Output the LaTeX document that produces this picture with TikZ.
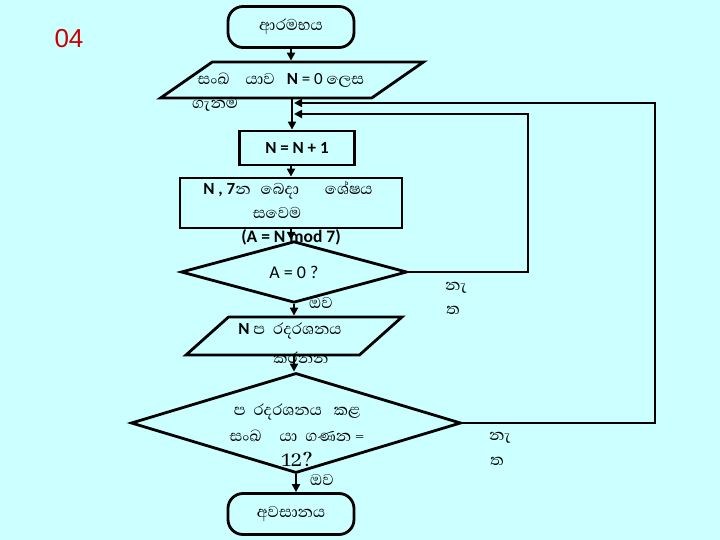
\documentclass[tikz,border=0pt]{standalone}
\usepackage{fontspec}
\setmainfont{Carlito}
\newfontfamily\sinhalafont[Script=Sinhala]{Abhaya Libre}
\newfontfamily\arialfont{Liberation Sans}
\usetikzlibrary{shapes.geometric, arrows.meta}
\definecolor{bgcyan}{RGB}{204,255,255}
\definecolor{numred}{RGB}{204,0,0}
\tikzset{>={Triangle[length=8pt,width=8pt]}}
\tikzset{
    shapeline/.style={draw, line width=2.8pt},
    terminal/.style={shapeline, rectangle, rounded corners=15pt, minimum width=126pt, minimum height=41pt, font=\sinhalafont\fontsize{20}{22}\selectfont},
    process/.style={shapeline, rectangle},
    io/.style={shapeline, trapezium, trapezium left angle=72, trapezium right angle=108, trapezium stretches=true},
    decision/.style={shapeline, diamond, inner sep=0pt},
    txt/.style={inner sep=0pt, font=\sinhalafont\fontsize{20}{22}\selectfont},
    flow/.style={line width=2.8pt, ->},
}
\newcommand{\lb}{\fontspec{Carlito}\bfseries}
\newcommand{\lr}{\fontspec{Carlito}}

\begin{document}
\begin{tikzpicture}[x=1pt, y=-1pt]
    \fill[bgcyan] (0,0) rectangle (720,540);
    \useasboundingbox (0,0) rectangle (720,540);

    \node[inner sep=0pt, text=numred, font=\arialfont\fontsize{26}{28}\selectfont] (num) at (69,39) {04};

    % shapes
    \node[terminal] (start) at (291,27) {ආරමභය};
    \node[io, minimum width=263pt, minimum height=36pt] (in1) at (292,80) {};
    \node[process, minimum width=115pt, minimum height=34pt, font=\lb\fontsize{17}{19}\selectfont] (inc) at (297,148) {N = N + 1};
    \node[process, minimum width=222pt, minimum height=50pt] (calc) at (291,203) {};
    \node[decision, minimum width=226pt, minimum height=58pt, font=\lr\fontsize{18}{20}\selectfont] (d1) at (294,272) {A = 0 ?};
    \node[io, minimum width=216pt, minimum height=38pt] (out) at (294,336) {};
    \node[decision, minimum width=330pt, minimum height=100pt] (d2) at (296,423) {};
    \node[terminal] (stop) at (291,514) {අවසානය};

    % texts
    \node[txt] (in1a) at (281,80) {සංඛ\hspace{16pt}යාව\hspace{12pt}{\lb\fontsize{17}{19}\selectfont N} {\lr\fontsize{17}{19}\selectfont = 0} ලෙස};
    \node[txt] (in1b) at (215,104) {ගැනම};
    \node[txt] (calca) at (288,190) {{\lb\fontsize{17}{19}\selectfont N , 7}න\hspace{10pt}බෙදා\hspace{26pt}ශේෂය};
    \node[txt] (calcb) at (277,213) {සවෙම};
    \node[txt, font=\lb\fontsize{17.5}{19}\selectfont] (calcc) at (291,237) {(A = N mod 7)};
    \node[txt] (outa) at (290,331) {{\lb\fontsize{17}{19}\selectfont N} ප\hspace{8pt}රදරශනය};
    \node[txt] (outb) at (301,358) {කරනන};
    \node[txt] (d2a) at (297,412) {ප\hspace{8pt}රදරශනය\hspace{12pt}කළ};
    \node[txt] (d2b) at (297,436) {සංඛ\hspace{18pt}යා\hspace{8pt}ගණන =};
    \node[txt, font=\sinhalafont\fontsize{24}{26}\selectfont] (d2c) at (297,459) {12?};
    \node[txt] (yes1) at (321,303) {ඔව};
    \node[txt] (no1a) at (456,288) {නැ};
    \node[txt] (no1b) at (453,310) {ත};
    \node[txt] (yes2) at (322,480) {ඔව};
    \node[txt] (no2a) at (500,438) {නැ};
    \node[txt] (no2b) at (497,461) {ත};

    % loop corners
    \coordinate (joinA) at (294,114);
    \coordinate (joinB) at (294,103);
    \coordinate (cornerA) at (528,114);
    \coordinate (cornerB) at (655,103);

    % connectors
    \draw[flow] (start.south) -- (start.south |- in1.north);
    \draw[flow] (in1.south) -- (in1.south |- inc.north);
    \draw[flow] (calc.north |- inc.south) -- (calc.north);
    \draw[flow] (calc.south) -- (calc.south |- d1.north);
    \draw[flow] (d1.south) -- (d1.south |- out.north);
    \draw[flow] (out.south) -- (out.south |- d2.north);
    \draw[flow] (d2.south) -- (d2.south |- stop.north);
    \draw[flow] (d1.east) -| (cornerA) -- (joinA);
    \draw[flow] (d2.east) -| (cornerB) -- (joinB);
\end{tikzpicture}
\end{document}
